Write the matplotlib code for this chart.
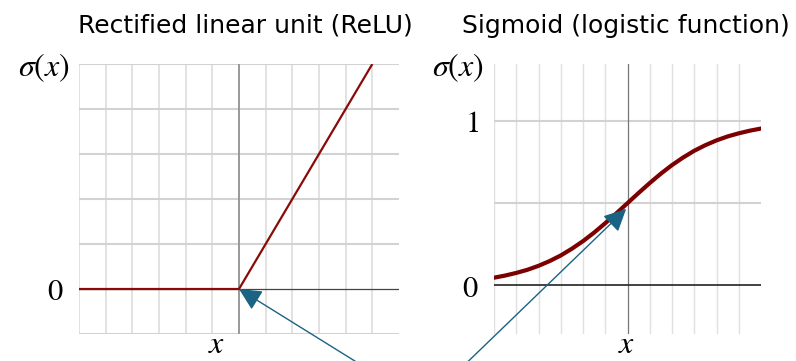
import matplotlib
matplotlib.use('Agg')
import matplotlib.pyplot as plt

plt.rcParams['mathtext.fontset'] = 'stix'

# ReLU panel: corner points of the function and its grid
relu_x = [-6, 0, 5]
relu_y = [0, 0, 5]
relu_grid_x = [-6, -5, -4, -3, -2, -1, 1, 2, 3, 4, 5]
relu_grid_y = [-1, 1, 2, 3, 4, 5]
relu_yticks = [0]
relu_yticklabels = ['$0$']

# logistic curve, sampled every 0.25
sig_x = [-3.0, -2.75, -2.5, -2.25, -2.0, -1.75, -1.5, -1.25, -1.0, -0.75, -0.5, -0.25,
         0.0, 0.25, 0.5, 0.75, 1.0, 1.25, 1.5, 1.75, 2.0, 2.25, 2.5, 2.75, 3.0]
sig_y = [0.047, 0.060, 0.076, 0.095, 0.119, 0.148, 0.182, 0.223, 0.269, 0.321, 0.378, 0.438,
         0.500, 0.562, 0.622, 0.679, 0.731, 0.777, 0.818, 0.852, 0.881, 0.905, 0.924, 0.940, 0.953]
sig_grid_x = [-3.0, -2.5, -2.0, -1.5, -1.0, -0.5, 0.5, 1.0, 1.5, 2.0, 2.5]
sig_grid_y = [0.5, 1.0]
sig_yticks = [0, 1]
sig_yticklabels = ['$0$', '$1$']

# where the pointer arrows land
relu_kink = (0, 0)
sig_mid = (-0.03, 0.465)

W, H = 796, 361
fig = plt.figure(figsize=(W / 100, H / 100), dpi=100)


def px_axes(l, t, r, b):
    return fig.add_axes([l / W, 1 - b / H, (r - l) / W, (b - t) / H])


ax1 = px_axes(79, 64, 399, 334)
ax2 = px_axes(494, 64, 761, 334)

title_font = ['DejaVu Sans']
red = '#8a0a0a'
blue = '#1b6383'

for ax in (ax1, ax2):
    for s in ax.spines.values():
        s.set_visible(False)
    ax.set_xticks([])
    ax.tick_params(axis='y', length=0, labelsize=22)

# --- ReLU ---
ax1.set_xlim(-6, 6)
ax1.set_ylim(-1, 5)
for gx in relu_grid_x:
    ax1.axvline(gx, color='#dadada', lw=1.1, zorder=1)
for gy in relu_grid_y:
    ax1.axhline(gy, color='#d2d2d2', lw=1.5, zorder=1)
ax1.axvline(0, color='#999999', lw=1.4, zorder=2)
ax1.axhline(0, color='#444444', lw=0.9, zorder=2)
ax1.plot(relu_x, relu_y, color=red, lw=1.6, zorder=3, solid_capstyle='butt')
ax1.set_yticks(relu_yticks)
ax1.set_yticklabels(relu_yticklabels)
ax1.tick_params(axis='y', pad=11)
ax1.text(70, H - 68, r'$\sigma(x)$', transform=None, ha='right', va='center', fontsize=23)
ax1.text(217, H - 353, r'$x$', transform=None, ha='center', va='baseline', fontsize=23)
fig.text(245 / W, 1 - 33 / H, 'Rectified linear unit (ReLU)', ha='center', va='baseline',
         fontsize=18, family=title_font)

# --- Sigmoid ---
ax2.set_xlim(-3, 3)
ax2.set_ylim(-0.295, 1.345)
for gx in sig_grid_x:
    ax2.axvline(gx, color='#e0e0e0', lw=1.0, zorder=1)
for gy in sig_grid_y:
    ax2.axhline(gy, color='#d2d2d2', lw=1.5, zorder=1)
ax2.axvline(0, color='#777777', lw=0.9, zorder=2)
ax2.axhline(0, color='#222222', lw=1.2, zorder=2)
ax2.plot(sig_x, sig_y, color='#7d0000', lw=3.0, zorder=3)
ax2.set_yticks(sig_yticks)
ax2.set_yticklabels(sig_yticklabels)
ax2.tick_params(axis='y', pad=11)
ax2.text(484, H - 68, r'$\sigma(x)$', transform=None, ha='right', va='center', fontsize=23)
ax2.text(627, H - 353, r'$x$', transform=None, ha='center', va='baseline', fontsize=23)
fig.text(626 / W, 1 - 33 / H, 'Sigmoid (logistic function)', ha='center', va='baseline',
         fontsize=18, family=title_font)

# arrows coming up from a common point below the figure
src = (424 / W, -43 / H)
arrow_kw = dict(arrowstyle='-|>,head_length=0.55,head_width=0.27', color=blue, lw=1.0,
                shrinkA=0, shrinkB=0, mutation_scale=25)
ax1.annotate('', xy=relu_kink, xycoords='data', xytext=src, textcoords='figure fraction',
             arrowprops=arrow_kw, annotation_clip=False, zorder=5)
ax2.annotate('', xy=sig_mid, xycoords='data', xytext=src, textcoords='figure fraction',
             arrowprops=arrow_kw, annotation_clip=False, zorder=5)

fig.savefig('out.png', dpi=100)
